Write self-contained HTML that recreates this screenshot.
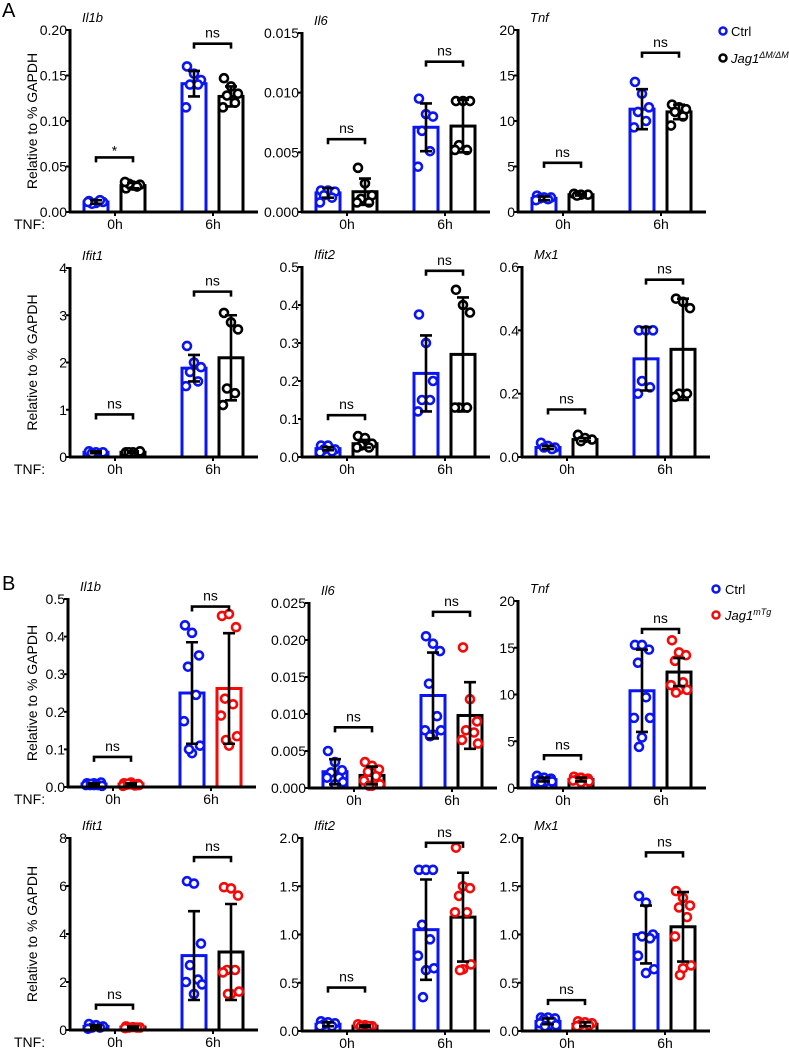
<!DOCTYPE html>
<html><head><meta charset="utf-8"><style>
html,body{margin:0;padding:0;background:#fff;width:789px;height:1050px;overflow:hidden}
svg{display:block;font-family:"Liberation Sans",Arial,sans-serif}
</style></head><body>
<svg id="fig" width="789" height="1050" viewBox="0 0 789 1050"></svg>
<script>
// ---------- DATA ----------
const groupLabels=["0h","6h"];
// Panel A
const aIl1bTicks=["0.00","0.05","0.10","0.15","0.20"];
const aIl1bMeans=[0.011,0.029,0.141,0.127];
const aIl1bSd=[0.002,0.003,0.014,0.011];
const aIl1bPts=[[0.012,0.010,0.011,0.009,0.013,0.011],[0.026,0.029,0.030,0.031,0.028,0.033],[0.160,0.152,0.145,0.140,0.140,0.115],[0.147,0.138,0.130,0.128,0.120,0.115]];
const aIl1bSig=["*","ns"];const aIl1bBr=[0.06,0.185];

const aIl6Ticks=["0.000","0.005","0.010","0.015"];
const aIl6Means=[0.0016,0.0017,0.0071,0.0072];
const aIl6Sd=[0.0004,0.0011,0.0020,0.0022];
const aIl6Pts=[[0.0018,0.0018,0.0017,0.0014,0.0012,0.0008],[0.0037,0.0024,0.0014,0.0011,0.0008,0.0008],[0.0095,0.0082,0.0080,0.0068,0.0051,0.0038],[0.0093,0.0093,0.0093,0.0056,0.0052,0.0052]];
const aIl6Sig=["ns","ns"];const aIl6Br=[0.0061,0.0126];

const aTnfTicks=["0","5","10","15","20"];
const aTnfMeans=[1.5,1.9,11.3,11.0];
const aTnfSd=[0.2,0.1,2.2,0.8];
const aTnfPts=[[1.8,1.6,1.6,1.5,1.4,1.3],[2.0,1.9,1.9,1.8],[14.3,13.0,11.5,11.0,10.0,9.3],[11.8,11.5,11.3,11.0,10.5,9.5]];
const aTnfSig=["ns","ns"];const aTnfBr=[5.4,17.5];

const aIfit1Ticks=["0","1","2","3","4"];
const aIfit1Means=[0.1,0.1,1.88,2.1];
const aIfit1Sd=[0.02,0.02,0.28,0.9];
const aIfit1Pts=[[0.12,0.1,0.1,0.08],[0.1,0.1,0.12,0.1],[2.35,2.0,1.9,1.8,1.6,1.5],[3.05,2.85,2.7,1.45,1.35,1.1]];
const aIfit1Sig=["ns","ns"];const aIfit1Br=[0.9,3.5];

const aIfit2Ticks=["0.0","0.1","0.2","0.3","0.4","0.5"];
const aIfit2Means=[0.022,0.035,0.22,0.27];
const aIfit2Sd=[0.004,0.01,0.1,0.15];
const aIfit2Pts=[[0.03,0.03,0.02,0.02,0.015,0.012],[0.055,0.05,0.035,0.03,0.025,0.025],[0.375,0.3,0.2,0.15,0.15,0.12],[0.44,0.4,0.38,0.13,0.13,0.13]];
const aIfit2Sig=["ns","ns"];const aIfit2Br=[0.11,0.49];

const aMx1Ticks=["0.0","0.2","0.4","0.6"];
const aMx1Means=[0.03,0.055,0.31,0.34];
const aMx1Sd=[0.005,0.005,0.1,0.16];
const aMx1Pts=[[0.045,0.035,0.03,0.03,0.025],[0.07,0.06,0.055,0.05],[0.4,0.4,0.4,0.24,0.22,0.2],[0.5,0.49,0.47,0.2,0.2,0.19]];
const aMx1Sig=["ns","ns"];const aMx1Br=[0.15,0.56];

// Panel B
const bIl1bTicks=["0.0","0.1","0.2","0.3","0.4","0.5"];
const bIl1bMeans=[0.008,0.008,0.25,0.262];
const bIl1bSd=[0.002,0.002,0.135,0.147];
const bIl1bPts=[[0.01,0.01,0.012,0.005,0.005,0.005,0.003,0.005,0.008],[0.01,0.012,0.008,0.006,0.004,0.003,0.005,0.007,0.009],[0.43,0.41,0.35,0.32,0.245,0.175,0.11,0.09,0.1],[0.455,0.46,0.425,0.235,0.22,0.19,0.135,0.11,0.125]];
const bIl1bSig=["ns","ns"];const bIl1bBr=[0.08,0.48];

const bIl6Ticks=["0.000","0.005","0.010","0.015","0.020","0.025"];
const bIl6Means=[0.0022,0.0017,0.0125,0.0098];
const bIl6Sd=[0.0017,0.0012,0.0058,0.0045];
const bIl6Pts=[[0.005,0.0035,0.0024,0.0021,0.0014,0.0014,0.0008,0.0005],[0.0035,0.003,0.0025,0.0022,0.0016,0.001,0.0005,0.0003,0.0003],[0.0205,0.0195,0.0185,0.0141,0.0097,0.0078,0.0078,0.0072,0.007],[0.019,0.012,0.009,0.0078,0.0075,0.0065,0.006]];
const bIl6Sig=["ns","ns"];const bIl6Br=[0.0082,0.0238];

const bTnfTicks=["0","5","10","15","20"];
const bTnfMeans=[0.9,0.9,10.4,12.4];
const bTnfSd=[0.2,0.2,4.4,1.5];
const bTnfPts=[[1.3,1.1,1.0,0.9,0.8,0.7,0.7,0.6,0.6],[1.2,1.1,1.0,0.9,0.9,0.8,0.7,0.6],[15.3,15.3,14.8,13.4,9.7,7.5,7.5,5.4,4.4],[15.8,14.5,14.2,13.6,11.3,11.0,10.5,10.5,10.2]];
const bTnfSig=["ns","ns"];const bTnfBr=[3.5,17.0];

const bIfit1Ticks=["0","2","4","6","8"];
const bIfit1Means=[0.15,0.12,3.1,3.25];
const bIfit1Sd=[0.05,0.03,1.85,2.0];
const bIfit1Pts=[[0.25,0.2,0.15,0.1,0.1,0.05],[0.15,0.12,0.1,0.1,0.1,0.08],[6.2,6.1,3.6,2.7,2.1,2.0,1.9,1.5],[5.95,5.9,5.6,2.5,2.5,2.4,1.6,1.5,1.5]];
const bIfit1Sig=["ns","ns"];const bIfit1Br=[1.05,7.2];

const bIfit2Ticks=["0.0","0.5","1.0","1.5","2.0"];
const bIfit2Means=[0.07,0.05,1.05,1.18];
const bIfit2Sd=[0.02,0.01,0.52,0.46];
const bIfit2Pts=[[0.1,0.09,0.08,0.07,0.05,0.05],[0.07,0.06,0.05,0.05,0.05],[1.67,1.67,1.67,1.1,0.95,0.78,0.65,0.63,0.35],[1.9,1.5,1.48,1.4,1.23,1.23,0.69,0.64,0.63]];
const bIfit2Sig=["ns","ns"];const bIfit2Br=[0.45,1.95];

const bMx1Ticks=["0.0","0.5","1.0","1.5","2.0"];
const bMx1Means=[0.1,0.07,1.0,1.08];
const bMx1Sd=[0.03,0.02,0.3,0.36];
const bMx1Pts=[[0.14,0.14,0.13,0.12,0.1,0.08,0.06,0.05,0.05],[0.1,0.09,0.08,0.07,0.06,0.05],[1.4,1.33,1.0,0.98,0.96,0.78,0.64,0.6],[1.45,1.38,1.3,1.28,1.18,0.98,0.68,0.65,0.58]];
const bMx1Sig=["ns","ns"];const bMx1Br=[0.32,1.85];

// ---------- LAYOUT ----------
const BLUE="#0a14f5",RED="#f50a0a",BLK="#000";
const panels=[
 {id:"a-il1b",title:"Il1b",ticks:aIl1bTicks,means:aIl1bMeans,sd:aIl1bSd,pts:aIl1bPts,sig:aIl1bSig,br:aIl1bBr,ax:70,top:30,bot:212,ylab:true,c2:BLK,p2:BLK},
 {id:"a-il6",title:"Il6",ticks:aIl6Ticks,means:aIl6Means,sd:aIl6Sd,pts:aIl6Pts,sig:aIl6Sig,br:aIl6Br,ax:302,top:33,bot:212,c2:BLK,p2:BLK},
 {id:"a-tnf",title:"Tnf",ticks:aTnfTicks,means:aTnfMeans,sd:aTnfSd,pts:aTnfPts,sig:aTnfSig,br:aTnfBr,ax:518,top:30,bot:212,c2:BLK,p2:BLK},
 {id:"a-ifit1",title:"Ifit1",ticks:aIfit1Ticks,means:aIfit1Means,sd:aIfit1Sd,pts:aIfit1Pts,sig:aIfit1Sig,br:aIfit1Br,ax:70,top:268,bot:457,ylab:true,c2:BLK,p2:BLK},
 {id:"a-ifit2",title:"Ifit2",ticks:aIfit2Ticks,means:aIfit2Means,sd:aIfit2Sd,pts:aIfit2Pts,sig:aIfit2Sig,br:aIfit2Br,ax:302,top:267,bot:457,c2:BLK,p2:BLK},
 {id:"a-mx1",title:"Mx1",ticks:aMx1Ticks,means:aMx1Means,sd:aMx1Sd,pts:aMx1Pts,sig:aMx1Sig,br:aMx1Br,ax:522,top:267,bot:457,c2:BLK,p2:BLK},
 {id:"b-il1b",title:"Il1b",ticks:bIl1bTicks,means:bIl1bMeans,sd:bIl1bSd,pts:bIl1bPts,sig:bIl1bSig,br:bIl1bBr,ax:68,top:599,bot:787,ylab:true,c2:RED,p2:RED},
 {id:"b-il6",title:"Il6",ticks:bIl6Ticks,means:bIl6Means,sd:bIl6Sd,pts:bIl6Pts,sig:bIl6Sig,br:bIl6Br,ax:309,top:603,bot:788,c2:BLK,p2:RED},
 {id:"b-tnf",title:"Tnf",ticks:bTnfTicks,means:bTnfMeans,sd:bTnfSd,pts:bTnfPts,sig:bTnfSig,br:bTnfBr,ax:518,top:601,bot:788,c2:BLK,p2:RED},
 {id:"b-ifit1",title:"Ifit1",ticks:bIfit1Ticks,means:bIfit1Means,sd:bIfit1Sd,pts:bIfit1Pts,sig:bIfit1Sig,br:bIfit1Br,ax:70,top:838,bot:1030,ylab:true,c2:BLK,p2:RED},
 {id:"b-ifit2",title:"Ifit2",ticks:bIfit2Ticks,means:bIfit2Means,sd:bIfit2Sd,pts:bIfit2Pts,sig:bIfit2Sig,br:bIfit2Br,ax:302,top:838,bot:1031,c2:BLK,p2:RED},
 {id:"b-mx1",title:"Mx1",ticks:bMx1Ticks,means:bMx1Means,sd:bMx1Sd,pts:bMx1Pts,sig:bMx1Sig,br:bMx1Br,ax:522,top:838,bot:1031,c2:BLK,p2:RED}
];
const barOff=[14,51,112,149],barW=24,jit=[-7,0,7,-4,4,-8,8,0,-3];
const NS="http://www.w3.org/2000/svg",svg=document.getElementById("fig");
function mk(tag,attrs,parent,text){const e=document.createElementNS(NS,tag);for(const k in attrs)e.setAttribute(k,attrs[k]);if(text!=null)e.textContent=text;(parent||svg).appendChild(e);return e;}

panels.forEach(p=>{
 const g=mk("g",{});
 
 
 const max=parseFloat(p.ticks[p.ticks.length-1]);
 const y=v=>p.bot-v/max*(p.bot-p.top);
 const cols=[BLUE,p.c2,BLUE,p.c2],pcols=[BLUE,p.p2,BLUE,p.p2];
 const t=mk("text",{x:p.ax+12,y:p.top-8,"font-size":13,"font-style":"italic"},g,p.title);
 
 
 p.means.forEach((m,i)=>{
  const x0=p.ax+barOff[i];
  const r=mk("rect",{x:x0,y:y(m),width:barW,height:p.bot-y(m),fill:"#fff",stroke:cols[i],"stroke-width":3},g);
  
  
 });
 p.pts.forEach((arr,i)=>{
  const cx=p.ax+barOff[i]+barW/2;
  arr.forEach((v,k)=>{
   const c=mk("circle",{cx:cx+jit[k%jit.length],cy:y(v),r:4,fill:"#fff",stroke:pcols[i],"stroke-width":2.6},g);
   
   
  });
 });
 p.means.forEach((m,i)=>{
  const cx=p.ax+barOff[i]+barW/2,yu=y(m+p.sd[i]),yl=y(Math.max(0,m-p.sd[i]));
  const eb=mk("path",{d:`M${cx},${yl}V${yu}M${cx-6},${yu}H${cx+6}M${cx-6},${yl}H${cx+6}`,stroke:"#000","stroke-width":2.6,fill:"none"},g);
  
  
 });
 const ya=mk("line",{x1:p.ax,y1:p.top-1,x2:p.ax,y2:p.bot,stroke:"#000","stroke-width":3},g);
 
 
 const xa=mk("line",{x1:p.ax-1,y1:p.bot,x2:p.ax+188,y2:p.bot,stroke:"#000","stroke-width":3},g);
 
 
 p.ticks.forEach(tk=>{
  const yy=y(parseFloat(tk));
  mk("line",{x1:p.ax-4,y1:yy,x2:p.ax,y2:yy,stroke:"#000","stroke-width":2},g);
  const tl=mk("text",{x:p.ax-3,y:yy+5,"font-size":14,"text-anchor":"end"},g,tk);
  
  
 });
 groupLabels.forEach((gl,j)=>{
  const cx=p.ax+(j?143:45);
  mk("line",{x1:cx,y1:p.bot,x2:cx,y2:p.bot+4,stroke:"#000","stroke-width":2},g);
  const xl=mk("text",{x:cx,y:p.bot+17,"font-size":14,"text-anchor":"middle"},g,gl);
  
  
  const x1=p.ax+barOff[2*j]+barW/2,x2=p.ax+barOff[2*j+1]+barW/2,by=y(p.br[j]);
  const br=mk("path",{d:`M${x1},${by+5}V${by}H${x2}V${by+5}`,stroke:"#000","stroke-width":2.6,fill:"none"},g);
  
  
  const st=mk("text",{x:(x1+x2)/2,y:p.sig[j]=="*"?by-2:by-6,"font-size":14,"text-anchor":"middle"},g,p.sig[j]);
  
  
 });
 if(p.ylab){
  const cy=(p.top+p.bot)/2;
  const yl=mk("text",{x:0,y:0,"font-size":14,"text-anchor":"middle",transform:`translate(37,${cy}) rotate(-90)`},g,"Relative to % GAPDH");
  
  
  const tn=mk("text",{x:14,y:p.bot+17,"font-size":14},g,"TNF:");
  
  
 }
});
</script>
<svg width="789" height="1050" style="position:absolute;left:0;top:0">
 <text x="2" y="17" font-size="20" font-family="Liberation Sans,sans-serif">A</text>
 <text x="2" y="590" font-size="20" font-family="Liberation Sans,sans-serif">B</text>
 <g font-family="Liberation Sans,sans-serif" font-size="13">
  <circle cx="723" cy="31" r="3.5" fill="#fff" stroke="#0a14f5" stroke-width="2.5"/>
  <text x="731" y="36">Ctrl</text>
  <circle cx="723" cy="58" r="3.5" fill="#fff" stroke="#000" stroke-width="2.5"/>
  <text x="731" y="63" font-style="italic">Jag1<tspan font-size="9" dy="-5">ΔM/ΔM</tspan></text>
 </g>
 <g font-family="Liberation Sans,sans-serif" font-size="13">
  <circle cx="716" cy="589" r="3.5" fill="#fff" stroke="#0a14f5" stroke-width="2.5"/>
  <text x="725" y="594">Ctrl</text>
  <circle cx="716" cy="615" r="3.5" fill="#fff" stroke="#f50a0a" stroke-width="2.5"/>
  <text x="725" y="620" font-style="italic">Jag1<tspan font-size="9" dy="-5">mTg</tspan></text>
 </g>
</svg>
</body></html>
